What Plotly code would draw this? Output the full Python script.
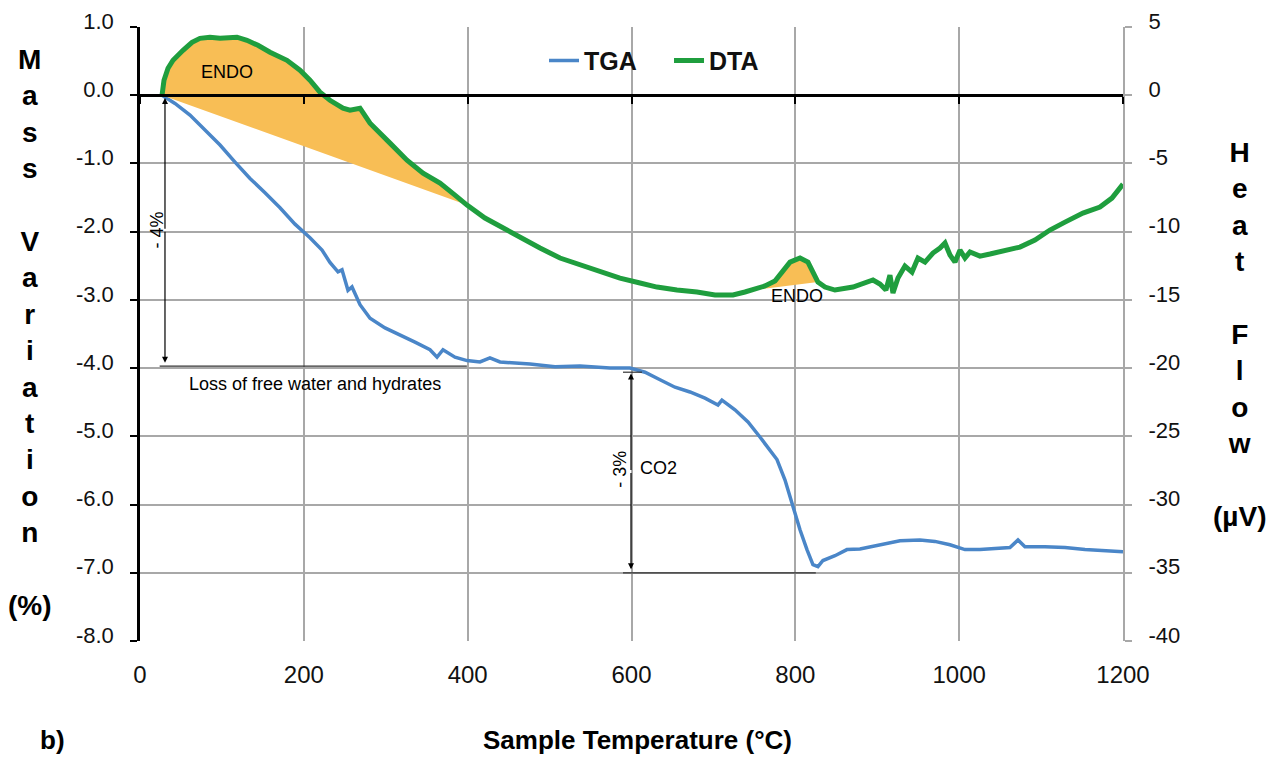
import numpy as np
import plotly.graph_objects as go

# ---------------- data ----------------
temp_tga = [26.9, 42.7, 61.0, 79.3, 97.7, 116.0, 134.3, 152.6, 170.9, 189.2, 207.5, 222.2,
            231.9, 241.7, 246.6, 253.9, 258.8, 268.6, 280.8, 299.1, 317.4, 335.7, 354.0,
            362.6, 369.9, 384.5, 399.2, 415.0, 427.2, 439.5, 476.1, 506.6, 537.1, 573.7,
            598.1, 616.5, 634.8, 653.1, 671.4, 689.7, 705.6, 710.4, 726.3, 742.2, 756.8,
            769.0, 777.6, 787.4, 797.1, 805.7, 814.2, 821.5, 827.6, 833.7, 848.4, 863.0,
            878.9, 903.3, 927.7, 952.1, 970.4, 988.8, 1007.1, 1025.4, 1043.7, 1062.0,
            1071.8, 1080.3, 1104.7, 1129.2, 1153.6, 1178.0, 1200.0]
mass_tga = [0.00, -0.12, -0.29, -0.51, -0.73, -0.98, -1.22, -1.43, -1.65, -1.89, -2.09, -2.27,
            -2.45, -2.59, -2.56, -2.86, -2.81, -3.07, -3.27, -3.41, -3.51, -3.62, -3.73,
            -3.84, -3.73, -3.84, -3.89, -3.91, -3.85, -3.91, -3.94, -3.98, -3.97, -4.00,
            -4.00, -4.06, -4.17, -4.28, -4.35, -4.44, -4.54, -4.47, -4.61, -4.79, -5.01,
            -5.20, -5.34, -5.64, -6.03, -6.37, -6.66, -6.88, -6.91, -6.82, -6.75, -6.66,
            -6.65, -6.59, -6.53, -6.52, -6.54, -6.59, -6.66, -6.66, -6.65, -6.63,
            -6.52, -6.62, -6.62, -6.63, -6.66, -6.68, -6.69]

temp_dta = [26.9, 29.3, 34.2, 40.3, 52.5, 63.5, 73.2, 85.4, 97.7, 118.4, 130.6, 144.0, 158.7,
            179.4, 195.3, 207.5, 219.7, 231.9, 247.8, 256.3, 268.6, 280.8, 305.2, 325.9,
            345.5, 366.2, 384.5, 399.2, 421.1, 443.1, 463.9, 488.3, 512.7, 537.1, 561.5,
            585.9, 610.4, 631.1, 655.5, 679.9, 701.9, 723.9, 738.5, 748.3, 762.9, 775.1,
            784.9, 793.5, 805.7, 815.4, 821.5, 827.6, 836.2, 848.4, 870.4, 885.0, 894.8,
            903.3, 910.6, 915.5, 919.2, 925.3, 933.8, 942.4, 949.7, 958.3, 968.0, 976.6,
            982.7, 988.8, 994.9, 1001.0, 1007.1, 1013.2, 1025.4, 1037.6, 1055.9, 1074.2,
            1092.5, 1110.8, 1129.2, 1151.1, 1171.9, 1186.5, 1200.0]
heat_dta = [0.00, 1.10, 1.98, 2.56, 3.29, 3.88, 4.17, 4.25, 4.17, 4.25, 4.03, 3.66, 3.15,
            2.56, 1.83, 1.10, 0.22, -0.37, -0.95, -1.10, -0.95, -2.05, -3.51, -4.76,
            -5.71, -6.44, -7.32, -8.05, -9.00, -9.74, -10.47, -11.20, -11.93, -12.45, -12.96,
            -13.40, -13.76, -14.06, -14.28, -14.42, -14.64, -14.64, -14.42, -14.28, -13.98, -13.62,
            -12.81, -12.23, -11.93, -12.23, -12.96, -13.69, -14.06, -14.28, -14.06, -13.76, -13.54,
            -13.84, -14.28, -13.18, -14.50, -13.40, -12.52, -12.96, -11.93, -12.23, -11.57, -11.20,
            -10.83, -11.71, -12.23, -11.35, -11.93, -11.49, -11.79, -11.64, -11.35, -11.13,
            -10.62, -9.88, -9.30, -8.64, -8.20, -7.54, -6.52]

# endothermic windows (temperature bounds) shaded under the DTA curve
endo_windows = [(26.9, 399.2), (748.3, 827.6)]

x_tick_vals = [0, 200, 400, 600, 800, 1000, 1200]
y_tick_vals = [1, 0, -1, -2, -3, -4, -5, -6, -7, -8]
y_tick_text = ["1.0", "0.0", "-1.0", "-2.0", "-3.0", "-4.0", "-5.0", "-6.0", "-7.0", "-8.0"]
y2_tick_vals = [5, 0, -5, -10, -15, -20, -25, -30, -35, -40]
y2_tick_text = ["5", "0", "-5", "-10", "-15", "-20", "-25", "-30", "-35", "-40"]

left_title = ["M", "a", "s", "s", "", "V", "a", "r", "i", "a", "t", "i", "o", "n", "", "(%)"]
right_title = ["H", "e", "a", "t", "", "F", "l", "o", "w", "", "(µV)"]

# ---------------- style ----------------
FONT = "Arial, 'Liberation Sans', sans-serif"
BLUE = "#4a86c8"
GREEN = "#1f9e3e"
ORANGE = "#f8be55"
GRID = "#a8a8a8"

fig = go.Figure()

t_dta = np.array(temp_dta)
h_dta = np.array(heat_dta)
for lo, hi in endo_windows:
    m = (t_dta >= lo) & (t_dta <= hi)
    fig.add_trace(go.Scatter(x=t_dta[m], y=h_dta[m], yaxis="y2", mode="lines",
                             fill="toself", fillcolor=ORANGE, line=dict(width=0),
                             showlegend=False, hoverinfo="skip"))

fig.add_trace(go.Scatter(x=temp_tga, y=mass_tga, name="<b>TGA</b>", mode="lines",
                         line=dict(color=BLUE, width=3.5)))
fig.add_trace(go.Scatter(x=temp_dta, y=heat_dta, name="<b>DTA</b>", yaxis="y2", mode="lines",
                         line=dict(color=GREEN, width=5)))
# carrier for the zero-level axis (x2)
fig.add_trace(go.Scatter(x=temp_tga[:1], y=mass_tga[:1], xaxis="x2", mode="markers",
                         marker=dict(size=1, opacity=0), showlegend=False, hoverinfo="skip"))

fig.update_layout(
    width=1276, height=758,
    margin=dict(l=140, r=153, t=27, b=117, pad=0, autoexpand=False),
    plot_bgcolor="white", paper_bgcolor="white",
    font=dict(family=FONT, color="#111111"),
    showlegend=True,
    legend=dict(orientation="h", x=0.411, y=0.945, xanchor="left", yanchor="middle",
                font=dict(size=25, color="#111111"), bgcolor="rgba(0,0,0,0)",
                itemwidth=30, entrywidth=80, entrywidthmode="pixels"),
    xaxis=dict(range=[0, 1200], tickvals=x_tick_vals, showgrid=True, gridcolor=GRID,
               gridwidth=1.5, showline=False, zeroline=False, ticks="",
               tickfont=dict(size=24), ticklabelstandoff=17),
    xaxis2=dict(range=[0, 1200], overlaying="x", anchor="free", position=8 / 9, side="bottom",
                tickvals=x_tick_vals, showticklabels=False, ticks="outside", ticklen=7,
                tickwidth=2, tickcolor="black", showgrid=False, showline=True,
                linecolor="black", linewidth=2.5, zeroline=False),
    yaxis=dict(range=[-8, 1], tickvals=y_tick_vals, ticktext=y_tick_text, showgrid=True,
               gridcolor=GRID, gridwidth=1.5, showline=True, linecolor="black", linewidth=2.5,
               ticks="outside", ticklen=7, tickwidth=2, tickcolor="black", zeroline=False,
               tickfont=dict(size=22), ticklabelstandoff=12, ticklabelshift=-6),
    yaxis2=dict(range=[-40, 5], overlaying="y", side="right", tickvals=y2_tick_vals,
                ticktext=y2_tick_text, showgrid=False, showline=True, linecolor=GRID,
                linewidth=2, ticks="outside", ticklen=7, tickwidth=1.5, tickcolor=GRID,
                zeroline=False, tickfont=dict(size=22), ticklabelstandoff=12, ticklabelshift=-6),
)

# axis titles as stacked letters
fig.add_annotation(xref="paper", yref="paper", x=-0.112, y=0.503, xanchor="center",
                   yanchor="middle", showarrow=False, align="center",
                   text="<br>".join(f"<b>{c}</b>" if c else "" for c in left_title),
                   font=dict(size=28, color="black"))
fig.add_annotation(xref="paper", yref="paper", x=1.119, y=0.50, xanchor="center",
                   yanchor="middle", showarrow=False, align="center",
                   text="<br>".join(f"<b>{c}</b>" if c else "" for c in right_title),
                   font=dict(size=28, color="black"))
fig.add_annotation(xref="paper", yref="paper", x=0.5056, y=-0.161, xanchor="center",
                   yanchor="middle", showarrow=False,
                   text="<b>Sample Temperature (°C)</b>", font=dict(size=26, color="black"))
fig.add_annotation(xref="paper", yref="paper", x=-0.0895, y=-0.161, xanchor="center",
                   yanchor="middle", showarrow=False,
                   text="<b>b)</b>", font=dict(size=26, color="black"))

# in-plot notes
note = dict(size=18, color="black")
fig.add_annotation(x=106, y=0.34, text="ENDO", showarrow=False, font=note)
fig.add_annotation(x=802, y=-2.94, text="ENDO", showarrow=False, font=note)
fig.add_annotation(x=213.6, y=-4.24, text="Loss of free water and hydrates", showarrow=False,
                   font=note)
fig.add_annotation(x=21, y=-1.98, text="- 4%", textangle=-90, showarrow=False, font=note)
fig.add_annotation(x=586, y=-5.49, text="- 3%", textangle=-90, showarrow=False, font=note)
fig.add_annotation(x=633, y=-5.46, text="CO2", showarrow=False, font=note)

# double arrows
for xa, top, bot in [(30.5, -0.04, -3.92), (599.4, -4.08, -6.95)]:
    mid = (top + bot) / 2
    for head in (top, bot):
        fig.add_annotation(x=xa, y=head, ax=xa, ay=mid, axref="x", ayref="y", text="",
                           showarrow=True, arrowhead=2, arrowsize=1, arrowwidth=1.2,
                           arrowcolor="black")

# reference lines
for x0, x1, yv in [(24, 399, -3.97), (589.6, 612.8, -4.06), (589.6, 825, -7.0)]:
    fig.add_shape(type="line", xref="x", yref="y", x0=x0, x1=x1, y0=yv, y1=yv,
                  line=dict(color="#333333", width=1.2))

fig.write_html("out.html", config={"displayModeBar": False},
               post_script="document.body.style.margin='0';document.body.style.overflow='hidden';")
